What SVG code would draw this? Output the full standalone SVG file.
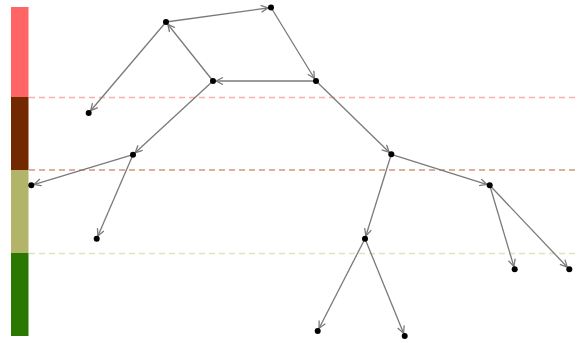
<svg xmlns="http://www.w3.org/2000/svg" width="578" height="343" viewBox="0 0 578 343">
<style>
.edge{stroke:#7a7a7a;stroke-width:1.3;fill:none;marker-end:url(#arr)}
.node circle{fill:#000}
.band{stroke:none}
.dash{stroke-width:1.4;stroke-dasharray:6,4;fill:none}
</style>
<defs>
<marker id="arr" markerUnits="userSpaceOnUse" markerWidth="14" markerHeight="10" refX="11" refY="4" orient="auto">
<path d="M1,0.5 L8,4 L1,7.5" fill="none" stroke="#7a7a7a" stroke-width="1.3"/>
</marker>
</defs>
<g id="bands">
<rect class="band" x="11" y="7" width="17.5" height="90" fill="#ff6565"/>
<rect class="band" x="11" y="97" width="17.5" height="73" fill="#722900"/>
<rect class="band" x="11" y="170" width="17.5" height="83" fill="#b2b46a"/>
<rect class="band" x="11" y="253" width="17.5" height="83" fill="#2a7800"/>
</g>
<g id="dividers">
<line class="dash" x1="29" y1="97.5" x2="578" y2="97.5" stroke="#f8b0ae"/>
<line class="dash" x1="29" y1="170" x2="578" y2="170" stroke="#d09682"/>
<line class="dash" x1="29" y1="253.5" x2="578" y2="253.5" stroke="#dfe2bb"/>
</g>
<g id="connectors">
<line class="edge" x1="166" y1="22" x2="271" y2="7.5"/>
<line class="edge" x1="271" y1="7.5" x2="316" y2="81"/>
<line class="edge" x1="316" y1="81" x2="213" y2="81"/>
<line class="edge" x1="213" y1="81" x2="166" y2="22"/>
<line class="edge" x1="166" y1="22" x2="88.7" y2="113"/>
<line class="edge" x1="213" y1="81" x2="133" y2="154.7"/>
<line class="edge" x1="316" y1="81" x2="391.3" y2="154.3"/>
<line class="edge" x1="133" y1="154.7" x2="31.3" y2="185.3"/>
<line class="edge" x1="133" y1="154.7" x2="96.7" y2="238.7"/>
<line class="edge" x1="391.3" y1="154.3" x2="365" y2="238.7"/>
<line class="edge" x1="391.3" y1="154.3" x2="489.7" y2="185.3"/>
<line class="edge" x1="489.7" y1="185.3" x2="514.7" y2="269.3"/>
<line class="edge" x1="489.7" y1="185.3" x2="569.3" y2="269.3"/>
<line class="edge" x1="365" y1="238.7" x2="317.7" y2="331"/>
<line class="edge" x1="365" y1="238.7" x2="404.7" y2="336"/>
</g>
<g id="n1" class="node"><circle cx="166" cy="22" r="3"/></g>
<g id="n2" class="node"><circle cx="271" cy="7.5" r="3"/></g>
<g id="n3" class="node"><circle cx="213" cy="81" r="3"/></g>
<g id="n4" class="node"><circle cx="316" cy="81" r="3"/></g>
<g id="n5" class="node"><circle cx="88.7" cy="113" r="3"/></g>
<g id="n6" class="node"><circle cx="133" cy="154.7" r="3"/></g>
<g id="n7" class="node"><circle cx="391.3" cy="154.3" r="3"/></g>
<g id="n8" class="node"><circle cx="31.3" cy="185.3" r="3"/></g>
<g id="n9" class="node"><circle cx="489.7" cy="185.3" r="3"/></g>
<g id="n10" class="node"><circle cx="96.7" cy="238.7" r="3"/></g>
<g id="n11" class="node"><circle cx="365" cy="238.7" r="3"/></g>
<g id="n12" class="node"><circle cx="514.7" cy="269.3" r="3"/></g>
<g id="n13" class="node"><circle cx="569.3" cy="269.3" r="3"/></g>
<g id="n14" class="node"><circle cx="317.7" cy="331" r="3"/></g>
<g id="n15" class="node"><circle cx="404.7" cy="336" r="3"/></g>
</svg>
